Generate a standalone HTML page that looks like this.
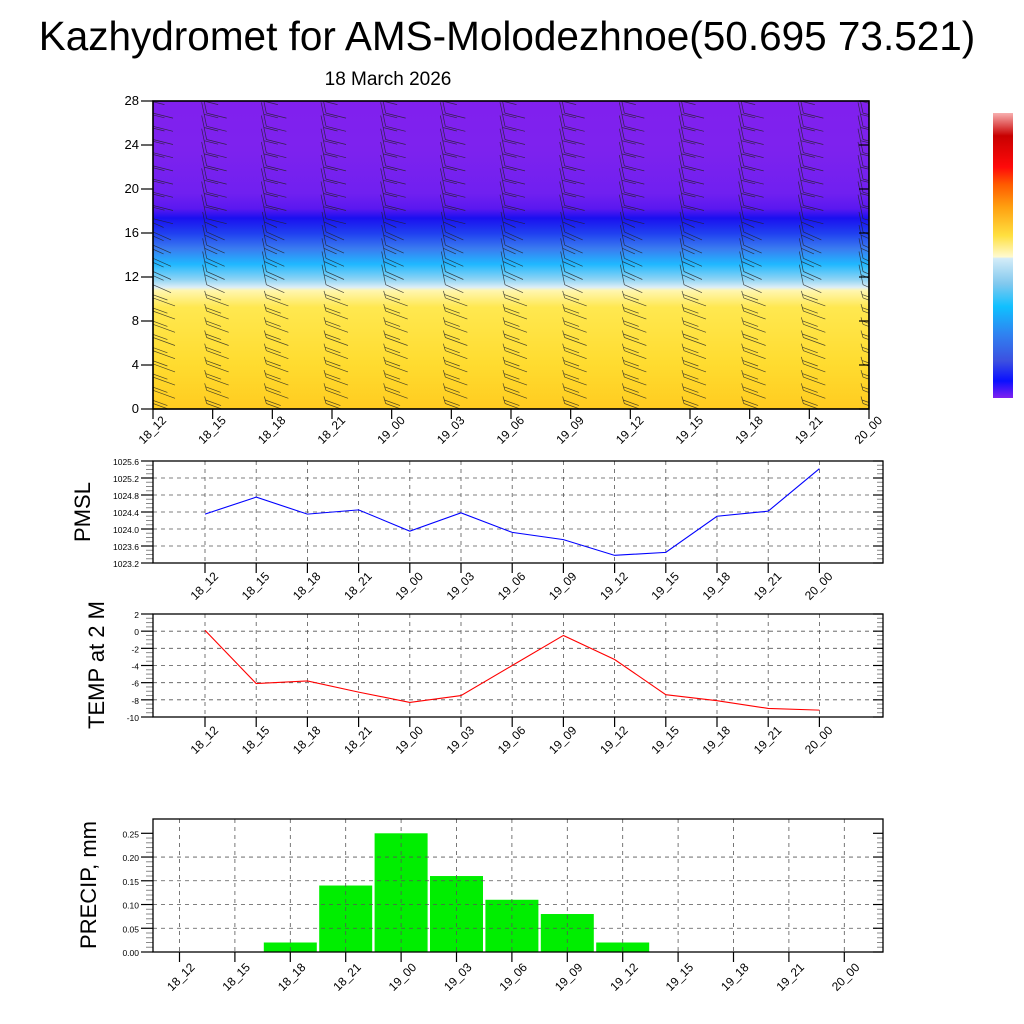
<!DOCTYPE html>
<html><head><meta charset="utf-8"><style>
body{margin:0;background:#fff}
svg{display:block;font-family:"Liberation Sans",sans-serif}
</style></head><body>
<svg id="s" width="1024" height="1024" viewBox="0 0 1024 1024">
<defs>
<clipPath id="tc"><rect x="153" y="101" width="716" height="308"/></clipPath>
<linearGradient id="tg" x1="0" y1="0" x2="0" y2="1">
<stop offset="0" stop-color="#8120ee"/>
<stop offset="0.16" stop-color="#7d22ee"/>
<stop offset="0.3" stop-color="#7020f0"/>
<stop offset="0.35" stop-color="#5a18f0"/>
<stop offset="0.38" stop-color="#1a10f0"/>
<stop offset="0.43" stop-color="#2040f0"/>
<stop offset="0.48" stop-color="#3a7cf0"/>
<stop offset="0.53" stop-color="#20b8ff"/>
<stop offset="0.58" stop-color="#90d4f4"/>
<stop offset="0.605" stop-color="#dceef6"/>
<stop offset="0.615" stop-color="#fff6b0"/>
<stop offset="0.67" stop-color="#ffe850"/>
<stop offset="0.85" stop-color="#ffdc30"/>
<stop offset="1" stop-color="#ffcc20"/>
</linearGradient>
<linearGradient id="cb" x1="0" y1="0" x2="0" y2="1">
<stop offset="0" stop-color="#f8b0b0"/>
<stop offset="0.08" stop-color="#c80000"/>
<stop offset="0.19" stop-color="#ff0a0a"/>
<stop offset="0.25" stop-color="#ff5a00"/>
<stop offset="0.33" stop-color="#ffa010"/>
<stop offset="0.43" stop-color="#ffe040"/>
<stop offset="0.505" stop-color="#fffad0"/>
<stop offset="0.51" stop-color="#d4ecf8"/>
<stop offset="0.6" stop-color="#80c8ee"/>
<stop offset="0.68" stop-color="#10c0ff"/>
<stop offset="0.78" stop-color="#3080f0"/>
<stop offset="0.87" stop-color="#3c50e0"/>
<stop offset="0.94" stop-color="#0a10ff"/>
<stop offset="1" stop-color="#8020f0"/>
</linearGradient>
</defs>
<text x="507" y="50" font-size="40.5" text-anchor="middle">Kazhydromet for AMS-Molodezhnoe(50.695 73.521)</text>
<text x="388" y="85" font-size="19" text-anchor="middle">18 March 2026</text>
<rect x="153" y="101" width="716" height="308" fill="url(#tg)"/>
<g id="barbs" clip-path="url(#tc)"></g>
<rect x="153" y="101" width="716" height="308" fill="none" stroke="#000" stroke-width="1.5"/>
<rect x="993" y="113" width="20" height="285" fill="url(#cb)"/>
<g id="top-axes"></g>
<g id="pmsl"></g>
<g id="temp"></g>
<g id="precip"></g>
<text transform="translate(90,512) rotate(-90)" font-size="22" text-anchor="middle">PMSL</text>
<text transform="translate(104,665) rotate(-90)" font-size="22" text-anchor="middle">TEMP at 2 M</text>
<text transform="translate(96,885) rotate(-90)" font-size="22" text-anchor="middle">PRECIP, mm</text>
</svg>
<script>
const timeLabels=["18_12","18_15","18_18","18_21","19_00","19_03","19_06","19_09","19_12","19_15","19_18","19_21","20_00"];
const heightTicks=[0,4,8,12,16,20,24,28];
const pmslValues=[1024.35,1024.75,1024.35,1024.45,1023.95,1024.38,1023.92,1023.75,1023.38,1023.45,1024.3,1024.42,1025.42];
const pmslTicks=[1023.2,1023.6,1024.0,1024.4,1024.8,1025.2,1025.6];
const tempValues=[0.1,-6.1,-5.8,-7.1,-8.3,-7.5,-4.0,-0.5,-3.3,-7.4,-8.1,-9.0,-9.2];
const tempTicks=[-10,-8,-6,-4,-2,0,2];
const precipValues=[0,0,0.02,0.14,0.25,0.16,0.11,0.08,0.02,0,0,0,0];
const precipTicks=[0,0.05,0.10,0.15,0.20,0.25];

const NS="http://www.w3.org/2000/svg";
function mk(p,tag,a){const e=document.createElementNS(NS,tag);for(const k in a)e.setAttribute(k,a[k]);p.appendChild(e);return e;}

function panel(g,o){
  const yt=o.yTicks;
  timeLabels.forEach((l,i)=>{
    const x=o.xs(i);
    if(o.grid){const v=mk(g,'line',{x1:x,x2:x,y1:o.y0,y2:o.y1,stroke:'#555','stroke-dasharray':'4,4','stroke-width':0.8});}
    const t=mk(g,'line',{x1:x,x2:x,y1:o.y1,y2:o.y1+(o.tickLen||10),stroke:'#000','stroke-width':1.2});
    
    const tx=mk(g,'text',{transform:`translate(${x+o.lx},${o.y1+o.ly}) rotate(-45)`,'font-size':12,'text-anchor':'end'});
    tx.textContent=l;
    
  });
  yt.forEach((v,k)=>{
    const y=o.ys(v);
    if(o.grid&&k>0&&k<yt.length-1){const h=mk(g,'line',{x1:o.x0,x2:o.x1,y1:y,y2:y,stroke:'#555','stroke-dasharray':'4,4','stroke-width':0.8});}
    const t=mk(g,'line',{x1:o.x0-12,x2:o.x0,y1:y,y2:y,stroke:'#000','stroke-width':1.2});
    
    const t2=mk(g,'line',{x1:o.x1,x2:o.x1-10,y1:y,y2:y,stroke:'#000','stroke-width':1.2});
    
    const tx=mk(g,'text',{x:o.x0-14,y:y+4,'font-size':o.fs||9,'text-anchor':'end'});
    tx.textContent=o.fmt(v);
    
    if(k<yt.length-1&&o.minor){
      const y2=o.ys(yt[k+1]);
      for(let m=1;m<o.minor;m++){const yy=y+(y2-y)*m/o.minor;
        const a=mk(g,'line',{x1:o.x0-7,x2:o.x0,y1:yy,y2:yy,stroke:'#888','stroke-width':1});
        const b=mk(g,'line',{x1:o.x1,x2:o.x1-6,y1:yy,y2:yy,stroke:'#888','stroke-width':1});}
    }
  });
  const f=mk(g,'rect',{x:o.x0,y:o.y0,width:o.x1-o.x0,height:o.y1-o.y0,fill:'none',stroke:'#000','stroke-width':1.3});
  
}

{
  const g=document.getElementById('top-axes');
  const xs=i=>153+i*716/12, ys=v=>409-v*308/28;
  panel(g,{x0:153,x1:869,y0:101,y1:409,xs,ys,yTicks:heightTicks,fmt:v=>v,lx:14,ly:12,fs:13,tickLen:0});
  const bg=document.getElementById('barbs');
  for(let i=0;i<13;i++){
    for(let h=0.5;h<28;h+=1.2){
      const x=xs(i)-6+(i===0?6:0), y=ys(h);
      let dx,dy,sx,sy;
      if(h>17){dx=20;dy=5;sx=-5;sy=-24;} else if(h>11){dx=18;dy=8;sx=-4;sy=-20;} else {dx=22;dy=8;sx=-2;sy=-7;}
      const p=mk(bg,'path',{d:`M${x} ${y}l${dx} ${dy}M${x} ${y}l${sx} ${sy}M${x+sx*0.5} ${y+sy*0.5}l${dx*0.7} ${dy*0.7}`,stroke:'#222','stroke-width':0.7,fill:'none','stroke-opacity':0.8});
      
    }
  }
}
{
  const g=document.getElementById('pmsl');
  const xs=i=>205+i*51.2, ys=v=>563-(v-1023.2)*102/2.4;
  panel(g,{x0:153,x1:883,y0:461,y1:563,xs,ys,yTicks:pmslTicks,fmt:v=>v.toFixed(1),lx:14,ly:14,grid:true,minor:4,fs:8.5});
  const l=mk(g,'polyline',{points:pmslValues.map((v,i)=>xs(i)+','+ys(v)).join(' '),fill:'none',stroke:'#0000ff','stroke-width':1.1});
  
}
{
  const g=document.getElementById('temp');
  const xs=i=>205+i*51.2, ys=v=>717-(v+10)*103/12;
  panel(g,{x0:153,x1:883,y0:614,y1:717,xs,ys,yTicks:tempTicks,fmt:v=>v,lx:14,ly:14,grid:true,minor:4,fs:8.5});
  const l=mk(g,'polyline',{points:tempValues.map((v,i)=>xs(i)+','+ys(v)).join(' '),fill:'none',stroke:'#ff0000','stroke-width':1.1});
  
}
{
  const g=document.getElementById('precip');
  const xs=i=>179.5+i*55.4, ys=v=>952-v*118.7/0.25;
  precipValues.forEach((v,i)=>{ if(v<=0)return;
    const r=mk(g,'rect',{x:xs(i)-26.5,y:ys(v),width:53,height:952-ys(v),fill:'#00ee00'});
    
  });
  panel(g,{x0:153,x1:883,y0:819,y1:952,xs,ys,yTicks:precipTicks,fmt:v=>v.toFixed(2),lx:16,ly:16,grid:true,minor:5,fs:8.5});
}
</script>
</body></html>
